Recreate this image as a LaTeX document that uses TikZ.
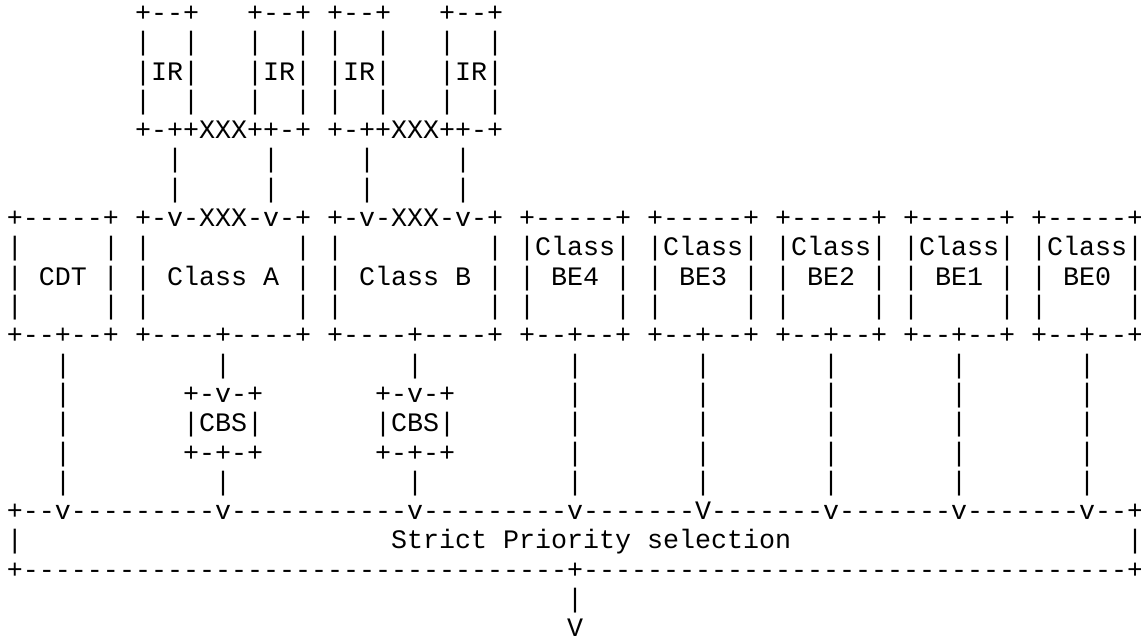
\documentclass[tikz,border=0pt]{standalone}
\usepackage{fontspec}
\setmonofont{Liberation Mono}
\ExplSyntaxOn
\cs_new:Npn \reptx #1#2 { \prg_replicate:nn {#1} {#2} }
\ExplSyntaxOff
\newcommand\gap[1]{\hspace*{#1\dimexpr 12.002pt\relax}}
\def\cx#1{5.25pt+12.002pt*#1}
\def\ry#1{-16.05pt-21.98pt*#1}
\tikzset{asc/.style={anchor=base west, inner sep=0pt, outer sep=0pt,
  font=\ttfamily\fontsize{20pt}{22pt}\selectfont, text=black}}
\begin{document}
\begin{tikzpicture}
\fill[white] (0,0) rectangle (855.75pt,-479.25pt);
\useasboundingbox (0,0) rectangle (855.75pt,-479.25pt);
% IR boxes
\node[asc] (r0) at ({\cx{8}},{\ry{0}}) {+--+\gap3+--+\gap1+--+\gap3+--+};
\node[asc] (r1) at ({\cx{8}},{\ry{1}}) {|\gap2|\gap3|\gap2|\gap1|\gap2|\gap3|\gap2|};
\node[asc] (r2) at ({\cx{8}},{\ry{2}}) {|IR|\gap3|IR|\gap1|IR|\gap3|IR|};
\node[asc] (r3) at ({\cx{8}},{\ry{3}}) {|\gap2|\gap3|\gap2|\gap1|\gap2|\gap3|\gap2|};
\node[asc] (r4) at ({\cx{8}},{\ry{4}}) {+-++XXX++-+\gap1+-++XXX++-+};
\node[asc] (r5) at ({\cx{10}},{\ry{5}}) {|\gap5|\gap5|\gap5|};
\node[asc] (r6) at ({\cx{10}},{\ry{6}}) {|\gap5|\gap5|\gap5|};
% class boxes
\node[asc] (r7) at ({\cx{0}},{\ry{7}}) {+-----+\gap1+-v-XXX-v-+\gap1+-v-XXX-v-+\gap1+-----+\gap1+-----+\gap1+-----+\gap1+-----+\gap1+-----+};
\node[asc] (r8) at ({\cx{0}},{\ry{8}}) {|\gap5|\gap1|\gap9|\gap1|\gap9|\gap1|Class|\gap1|Class|\gap1|Class|\gap1|Class|\gap1|Class|};
\node[asc] (r9) at ({\cx{0}},{\ry{9}}) {|\gap1CDT\gap1|\gap1|\gap1Class\gap1A\gap1|\gap1|\gap1Class\gap1B\gap1|\gap1|\gap1BE4\gap1|\gap1|\gap1BE3\gap1|\gap1|\gap1BE2\gap1|\gap1|\gap1BE1\gap1|\gap1|\gap1BE0\gap1|};
\node[asc] (r10) at ({\cx{0}},{\ry{10}}) {|\gap5|\gap1|\gap9|\gap1|\gap9|\gap1|\gap5|\gap1|\gap5|\gap1|\gap5|\gap1|\gap5|\gap1|\gap5|};
\node[asc] (r11) at ({\cx{0}},{\ry{11}}) {+--+--+\gap1+----+----+\gap1+----+----+\gap1+--+--+\gap1+--+--+\gap1+--+--+\gap1+--+--+\gap1+--+--+};
% links and CBS
\node[asc] (r12) at ({\cx{3}},{\ry{12}}) {|\gap9|\gap{11}|\gap9|\gap7|\gap7|\gap7|\gap7|};
\node[asc] (r13) at ({\cx{3}},{\ry{13}}) {|\gap7+-v-+\gap7+-v-+\gap7|\gap7|\gap7|\gap7|\gap7|};
\node[asc] (r14) at ({\cx{3}},{\ry{14}}) {|\gap7|CBS|\gap7|CBS|\gap7|\gap7|\gap7|\gap7|\gap7|};
\node[asc] (r15) at ({\cx{3}},{\ry{15}}) {|\gap7+-+-+\gap7+-+-+\gap7|\gap7|\gap7|\gap7|\gap7|};
\node[asc] (r16) at ({\cx{3}},{\ry{16}}) {|\gap9|\gap{11}|\gap9|\gap7|\gap7|\gap7|\gap7|};
% strict priority selection
\node[asc] (r17) at ({\cx{0}},{\ry{17}}) {+\reptx{2}{-}v\reptx{9}{-}v\reptx{11}{-}v\reptx{9}{-}v\reptx{7}{-}V\reptx{7}{-}v\reptx{7}{-}v\reptx{7}{-}v\reptx{2}{-}+};
\node[asc] (r18l) at ({\cx{0}},{\ry{18}}) {|};
\node[asc] (r18) at ({\cx{24}},{\ry{18}}) {Strict Priority selection};
\node[asc] (r18r) at ({\cx{70}},{\ry{18}}) {|};
\node[asc] (r19) at ({\cx{0}},{\ry{19}}) {+\reptx{34}{-}+\reptx{34}{-}+};
\node[asc] (r20) at ({\cx{35}},{\ry{20}}) {|};
\node[asc] (r21) at ({\cx{35}},{\ry{21}}) {V};
\end{tikzpicture}
\end{document}
